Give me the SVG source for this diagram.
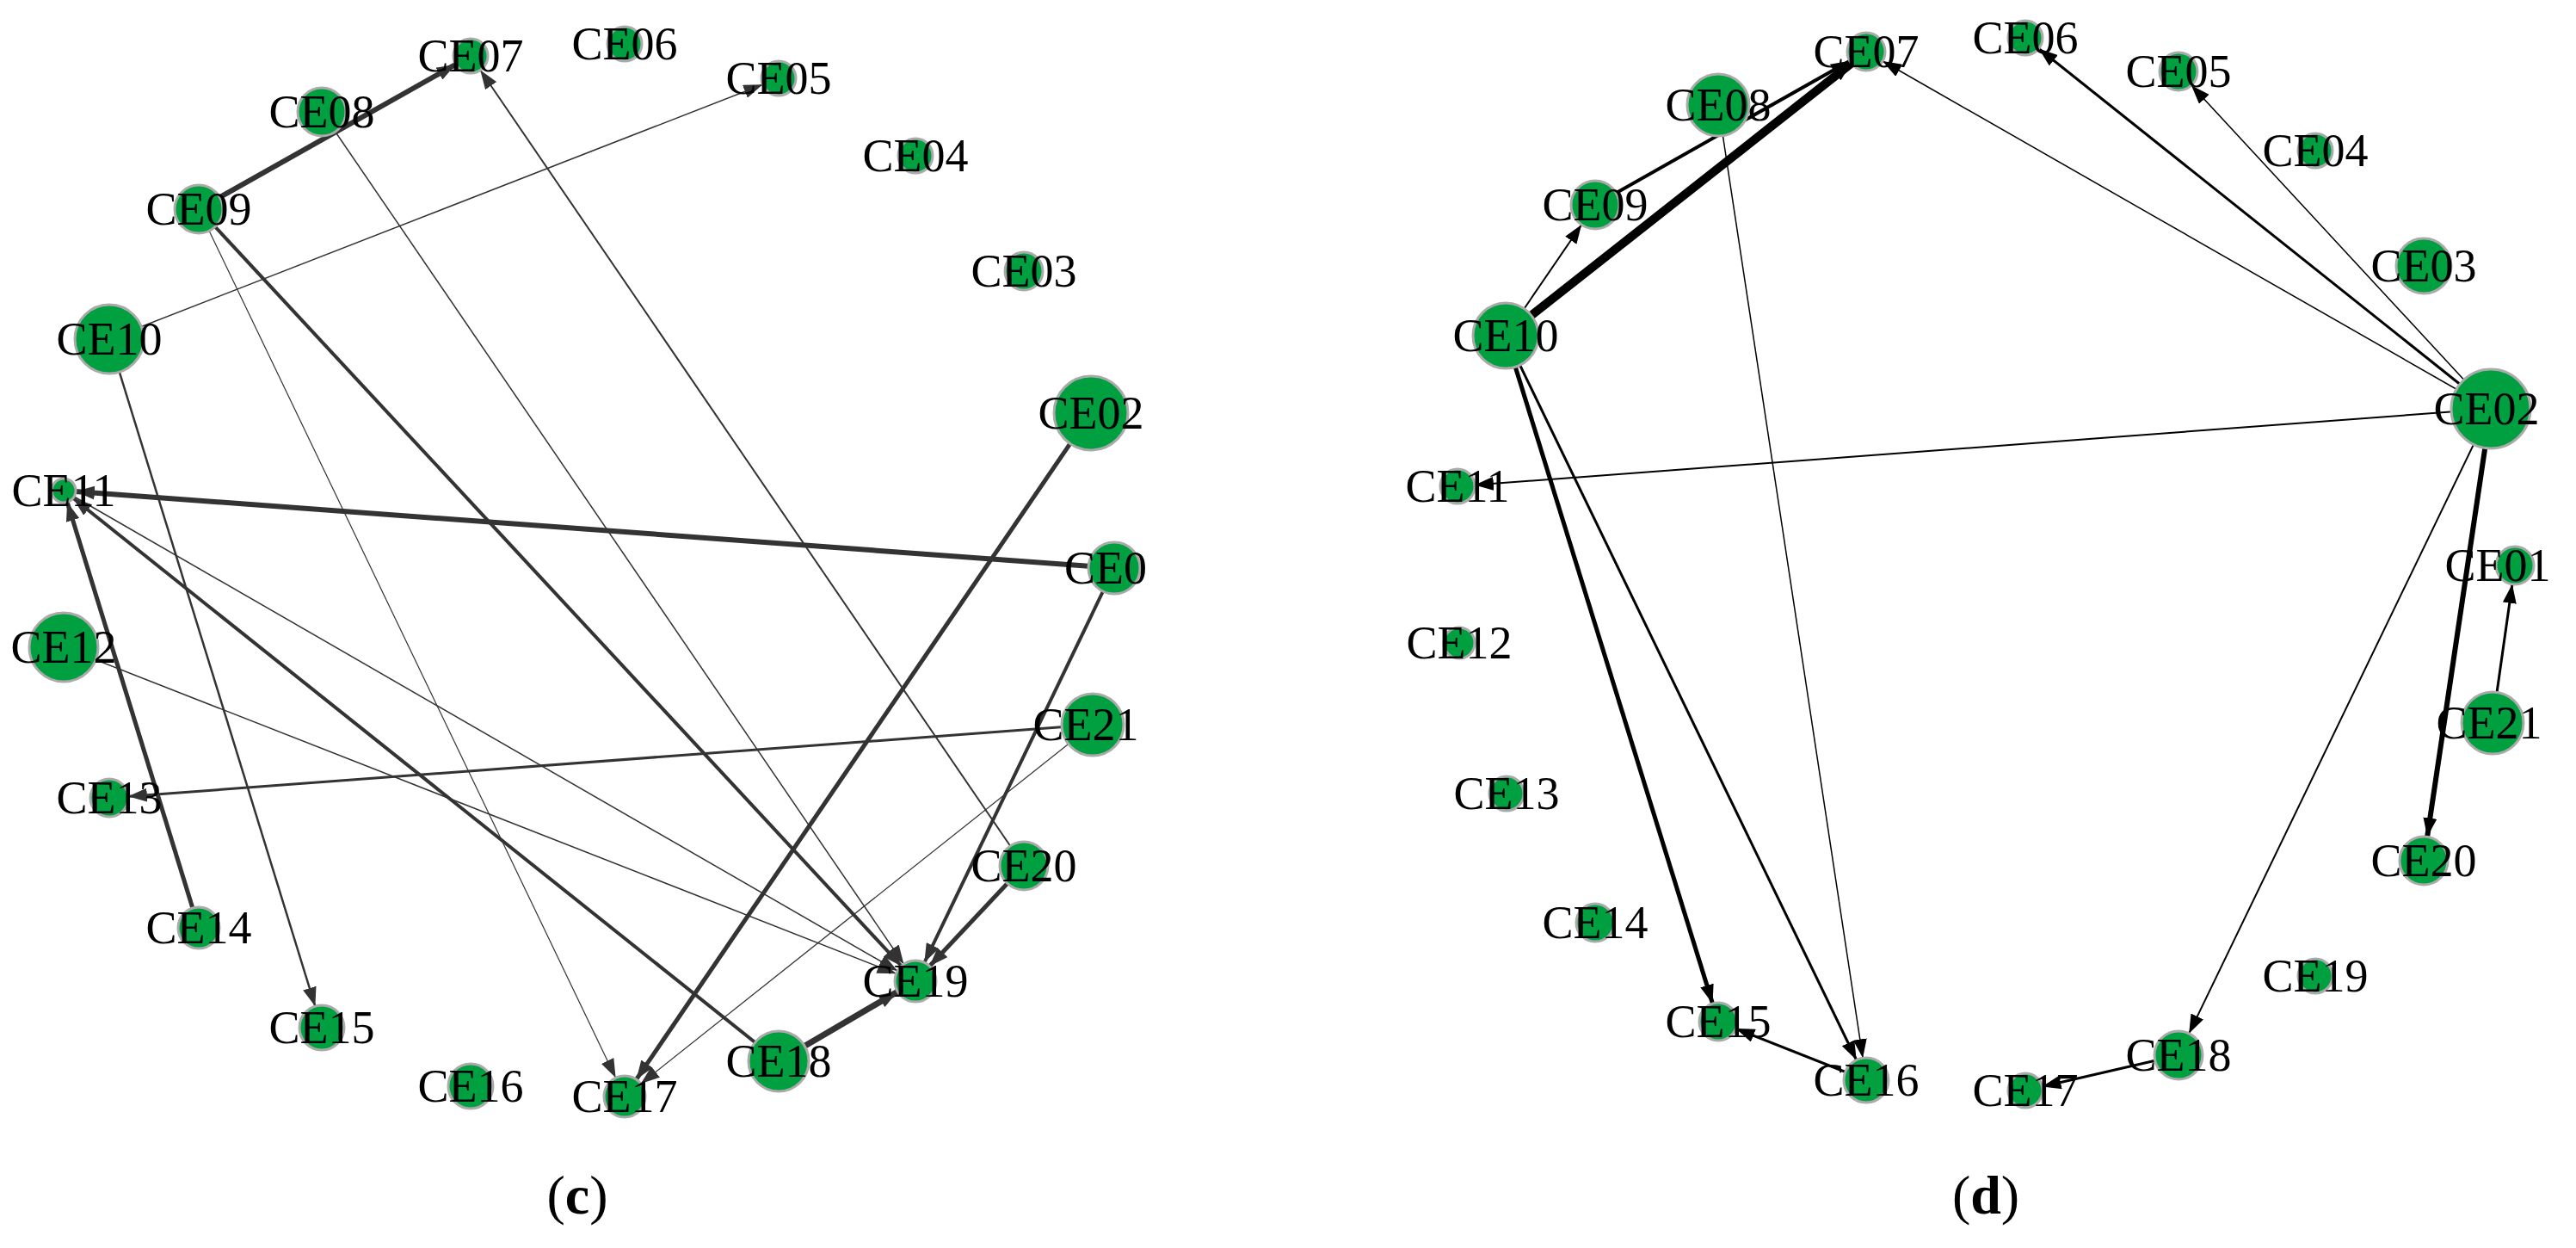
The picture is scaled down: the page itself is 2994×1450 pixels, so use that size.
<svg xmlns="http://www.w3.org/2000/svg" width="2994" height="1450" viewBox="0 0 2994 1450">
<style>
.n{fill:#00a040;stroke:#aaaaaa;stroke-width:3}
.t{font-family:"Liberation Serif","Times New Roman",serif;font-size:54px;fill:#000;text-anchor:middle;dominant-baseline:central}
.g line{stroke:#333333;fill:none}
.k line{stroke:#000000;fill:none}
.cap{font-family:"Liberation Serif","Times New Roman",serif;font-size:64px;fill:#000;text-anchor:middle}
</style>
<defs>
<marker id="a14" markerUnits="userSpaceOnUse" markerWidth="22" markerHeight="16" refX="36" refY="8" orient="auto"><path d="M0,0L22,8L0,16z" fill="#333"/></marker>
<marker id="a20" markerUnits="userSpaceOnUse" markerWidth="22" markerHeight="16" refX="42" refY="8" orient="auto"><path d="M0,0L22,8L0,16z" fill="#333"/></marker>
<marker id="a22" markerUnits="userSpaceOnUse" markerWidth="22" markerHeight="16" refX="44" refY="8" orient="auto"><path d="M0,0L22,8L0,16z" fill="#333"/></marker>
<marker id="a24" markerUnits="userSpaceOnUse" markerWidth="22" markerHeight="16" refX="46" refY="8" orient="auto"><path d="M0,0L22,8L0,16z" fill="#333"/></marker>
<marker id="a26" markerUnits="userSpaceOnUse" markerWidth="22" markerHeight="16" refX="48" refY="8" orient="auto"><path d="M0,0L22,8L0,16z" fill="#333"/></marker>
<marker id="b20" markerUnits="userSpaceOnUse" markerWidth="22" markerHeight="16" refX="42" refY="8" orient="auto"><path d="M0,0L22,8L0,16z" fill="#000"/></marker>
<marker id="b22" markerUnits="userSpaceOnUse" markerWidth="22" markerHeight="16" refX="44" refY="8" orient="auto"><path d="M0,0L22,8L0,16z" fill="#000"/></marker>
<marker id="b26" markerUnits="userSpaceOnUse" markerWidth="22" markerHeight="16" refX="48" refY="8" orient="auto"><path d="M0,0L22,8L0,16z" fill="#000"/></marker>
<marker id="b28" markerUnits="userSpaceOnUse" markerWidth="22" markerHeight="16" refX="50" refY="8" orient="auto"><path d="M0,0L22,8L0,16z" fill="#000"/></marker>
</defs>
<g id="edges-c" class="g">
<line x1="231" y1="243" x2="547" y2="65" stroke-width="6" marker-end="url(#a20)"/>
<line x1="127" y1="394" x2="905" y2="91" stroke-width="1.5" marker-end="url(#a20)"/>
<line x1="231" y1="243" x2="1064" y2="1140" stroke-width="4" marker-end="url(#a24)"/>
<line x1="374" y1="130" x2="1064" y2="1140" stroke-width="1.5" marker-end="url(#a24)"/>
<line x1="231" y1="243" x2="726" y2="1274" stroke-width="1.2" marker-end="url(#a24)"/>
<line x1="1190" y1="1006" x2="547" y2="65" stroke-width="2" marker-end="url(#a20)"/>
<line x1="127" y1="394" x2="374" y2="1194" stroke-width="2.5" marker-end="url(#a26)"/>
<line x1="1295" y1="660" x2="74" y2="570" stroke-width="6" marker-end="url(#a14)"/>
<line x1="231" y1="1078" x2="74" y2="570" stroke-width="5" marker-end="url(#a14)"/>
<line x1="905" y1="1233" x2="74" y2="570" stroke-width="4" marker-end="url(#a14)"/>
<line x1="74" y1="570" x2="1064" y2="1140" stroke-width="1.5" marker-end="url(#a24)"/>
<line x1="74" y1="752" x2="1064" y2="1140" stroke-width="1.5" marker-end="url(#a24)"/>
<line x1="1270" y1="842" x2="127" y2="927" stroke-width="3" marker-end="url(#a22)"/>
<line x1="1270" y1="842" x2="726" y2="1274" stroke-width="1.2" marker-end="url(#a24)"/>
<line x1="1268" y1="480" x2="726" y2="1274" stroke-width="5" marker-end="url(#a24)"/>
<line x1="1295" y1="660" x2="1064" y2="1140" stroke-width="4" marker-end="url(#a24)"/>
<line x1="1190" y1="1006" x2="1064" y2="1140" stroke-width="5" marker-end="url(#a24)"/>
<line x1="905" y1="1233" x2="1064" y2="1140" stroke-width="7" marker-end="url(#a24)"/>
</g>
<g id="edges-d" class="k">
<line x1="1750" y1="390" x2="2169" y2="60" stroke-width="10" marker-end="url(#b22)"/>
<line x1="1854" y1="238" x2="2169" y2="60" stroke-width="4" marker-end="url(#b22)"/>
<line x1="1750" y1="390" x2="1854" y2="238" stroke-width="2" marker-end="url(#b28)"/>
<line x1="2895" y1="475" x2="2169" y2="60" stroke-width="1.5" marker-end="url(#b22)"/>
<line x1="2895" y1="475" x2="2354" y2="44" stroke-width="3" marker-end="url(#b20)"/>
<line x1="2895" y1="475" x2="2532" y2="83" stroke-width="1.5" marker-end="url(#b22)"/>
<line x1="2895" y1="475" x2="1694" y2="565" stroke-width="2" marker-end="url(#b20)"/>
<line x1="2895" y1="475" x2="2817" y2="1000" stroke-width="6" marker-end="url(#b28)"/>
<line x1="2895" y1="475" x2="2532" y2="1226" stroke-width="2" marker-end="url(#b28)"/>
<line x1="2897" y1="840" x2="2923" y2="657" stroke-width="3" marker-end="url(#b22)"/>
<line x1="2532" y1="1226" x2="2354" y2="1267" stroke-width="3" marker-end="url(#b20)"/>
<line x1="2169" y1="1255" x2="1997" y2="1187" stroke-width="3" marker-end="url(#b22)"/>
<line x1="1750" y1="390" x2="1997" y2="1187" stroke-width="5" marker-end="url(#b22)"/>
<line x1="1750" y1="390" x2="2169" y2="1255" stroke-width="3" marker-end="url(#b26)"/>
<line x1="1997" y1="122" x2="2169" y2="1255" stroke-width="1.5" marker-end="url(#b26)"/>
</g>
<g id="c-CE07"><circle class="n" cx="547" cy="65" r="20"/><text class="t" x="547" y="65">CE07</text></g>
<g id="c-CE06"><circle class="n" cx="726" cy="51" r="20"/><text class="t" x="726" y="51">CE06</text></g>
<g id="c-CE05"><circle class="n" cx="905" cy="91" r="20"/><text class="t" x="905" y="91">CE05</text></g>
<g id="c-CE04"><circle class="n" cx="1064" cy="181" r="20"/><text class="t" x="1064" y="181">CE04</text></g>
<g id="c-CE03"><circle class="n" cx="1190" cy="315" r="22"/><text class="t" x="1190" y="315">CE03</text></g>
<g id="c-CE02"><circle class="n" cx="1268" cy="480" r="43"/><text class="t" x="1268" y="480">CE02</text></g>
<g id="c-CE01"><circle class="n" cx="1295" cy="660" r="30"/><text class="t" x="1285" y="660">CE0</text></g>
<g id="c-CE21"><circle class="n" cx="1270" cy="842" r="36"/><text class="t" x="1262" y="842">CE21</text></g>
<g id="c-CE20"><circle class="n" cx="1190" cy="1006" r="28"/><text class="t" x="1190" y="1006">CE20</text></g>
<g id="c-CE19"><circle class="n" cx="1064" cy="1140" r="24"/><text class="t" x="1064" y="1140">CE19</text></g>
<g id="c-CE18"><circle class="n" cx="905" cy="1233" r="35"/><text class="t" x="905" y="1233">CE18</text></g>
<g id="c-CE17"><circle class="n" cx="726" cy="1274" r="24"/><text class="t" x="726" y="1274">CE17</text></g>
<g id="c-CE16"><circle class="n" cx="547" cy="1262" r="26"/><text class="t" x="547" y="1262">CE16</text></g>
<g id="c-CE15"><circle class="n" cx="374" cy="1194" r="26"/><text class="t" x="374" y="1194">CE15</text></g>
<g id="c-CE14"><circle class="n" cx="231" cy="1078" r="24"/><text class="t" x="231" y="1078">CE14</text></g>
<g id="c-CE13"><circle class="n" cx="127" cy="927" r="22"/><text class="t" x="127" y="927">CE13</text></g>
<g id="c-CE12"><circle class="n" cx="74" cy="752" r="40"/><text class="t" x="74" y="752">CE12</text></g>
<g id="c-CE11"><circle class="n" cx="74" cy="570" r="14"/><text class="t" x="74" y="570">CE11</text></g>
<g id="c-CE10"><circle class="n" cx="127" cy="394" r="40"/><text class="t" x="127" y="394">CE10</text></g>
<g id="c-CE09"><circle class="n" cx="231" cy="243" r="28"/><text class="t" x="231" y="243">CE09</text></g>
<g id="c-CE08"><circle class="n" cx="374" cy="130" r="28"/><text class="t" x="374" y="130">CE08</text></g>
<g id="d-CE07"><circle class="n" cx="2169" cy="60" r="22"/><text class="t" x="2169" y="60">CE07</text></g>
<g id="d-CE06"><circle class="n" cx="2354" cy="44" r="20"/><text class="t" x="2354" y="44">CE06</text></g>
<g id="d-CE05"><circle class="n" cx="2532" cy="83" r="22"/><text class="t" x="2532" y="83">CE05</text></g>
<g id="d-CE04"><circle class="n" cx="2691" cy="175" r="20"/><text class="t" x="2691" y="175">CE04</text></g>
<g id="d-CE03"><circle class="n" cx="2817" cy="309" r="32"/><text class="t" x="2817" y="309">CE03</text></g>
<g id="d-CE02"><circle class="n" cx="2895" cy="475" r="46"/><text class="t" x="2890" y="475">CE02</text></g>
<g id="d-CE01"><circle class="n" cx="2923" cy="657" r="22"/><text class="t" x="2903" y="657">CE01</text></g>
<g id="d-CE21"><circle class="n" cx="2897" cy="840" r="36"/><text class="t" x="2893" y="840">CE21</text></g>
<g id="d-CE20"><circle class="n" cx="2817" cy="1000" r="28"/><text class="t" x="2817" y="1000">CE20</text></g>
<g id="d-CE19"><circle class="n" cx="2691" cy="1134" r="20"/><text class="t" x="2691" y="1134">CE19</text></g>
<g id="d-CE18"><circle class="n" cx="2532" cy="1226" r="28"/><text class="t" x="2532" y="1226">CE18</text></g>
<g id="d-CE17"><circle class="n" cx="2354" cy="1267" r="20"/><text class="t" x="2354" y="1267">CE17</text></g>
<g id="d-CE16"><circle class="n" cx="2169" cy="1255" r="26"/><text class="t" x="2169" y="1255">CE16</text></g>
<g id="d-CE15"><circle class="n" cx="1997" cy="1187" r="22"/><text class="t" x="1997" y="1187">CE15</text></g>
<g id="d-CE14"><circle class="n" cx="1854" cy="1072" r="22"/><text class="t" x="1854" y="1072">CE14</text></g>
<g id="d-CE13"><circle class="n" cx="1751" cy="922" r="20"/><text class="t" x="1751" y="922">CE13</text></g>
<g id="d-CE12"><circle class="n" cx="1696" cy="747" r="18"/><text class="t" x="1696" y="747">CE12</text></g>
<g id="d-CE11"><circle class="n" cx="1694" cy="565" r="20"/><text class="t" x="1694" y="565">CE11</text></g>
<g id="d-CE10"><circle class="n" cx="1750" cy="390" r="38"/><text class="t" x="1750" y="390">CE10</text></g>
<g id="d-CE09"><circle class="n" cx="1854" cy="238" r="28"/><text class="t" x="1854" y="238">CE09</text></g>
<g id="d-CE08"><circle class="n" cx="1997" cy="122" r="36"/><text class="t" x="1997" y="122">CE08</text></g>
<text class="cap" x="671" y="1410">(<tspan font-weight="bold">c</tspan>)</text>
<text class="cap" x="2308" y="1410">(<tspan font-weight="bold">d</tspan>)</text>
</svg>
